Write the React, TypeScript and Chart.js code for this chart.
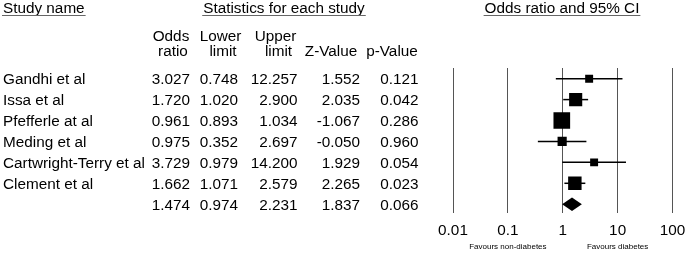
import React, { useEffect, useRef } from "react";
import { Chart, registerables } from "chart.js";

Chart.register(...registerables);

// ---- data ----
const studyNames = [
  "Gandhi et al",
  "Issa et al",
  "Pfefferle at al",
  "Meding et al",
  "Cartwright-Terry et al",
  "Clement et al",
  "",
];
const oddsRatios = [3.027, 1.72, 0.961, 0.975, 3.729, 1.662, 1.474];
const lowerLimits = [0.748, 1.02, 0.893, 0.352, 0.979, 1.071, 0.974];
const upperLimits = [12.257, 2.9, 1.034, 2.697, 14.2, 2.579, 2.231];
const zValues = [1.552, 2.035, -1.067, -0.05, 1.929, 2.265, 1.837];
const pValues = [0.121, 0.042, 0.286, 0.96, 0.054, 0.023, 0.066];
// relative study weights (%) — box area proportional to weight
const weights = [7.5, 20.5, 33, 10, 7.5, 21.5];
const summaryIndex = 6;
const xTickValues = [0.01, 0.1, 1, 10, 100];
const xTickLabels = ["0.01", "0.1", "1", "10", "100"];
const favourLabels = ["Favours non-diabetes", "Favours diabetes"];
const favourAt = [0.1, 10];

const FONT = "'Liberation Sans', Arial, Helvetica, sans-serif";
const FS = 15.3;

const forestPlugin = {
  id: "forestPlugin",
  beforeDatasetsDraw(chart: any) {
    const { ctx } = chart;
    const x = chart.scales.x;
    const y = chart.scales.y;
    ctx.save();
    ctx.strokeStyle = "#000";
    ctx.lineWidth = 1.5;
    for (let i = 0; i < weights.length; i++) {
      const py = y.getPixelForValue(i);
      ctx.beginPath();
      ctx.moveTo(x.getPixelForValue(lowerLimits[i]), py);
      ctx.lineTo(x.getPixelForValue(upperLimits[i]), py);
      ctx.stroke();
    }
    const s = summaryIndex;
    const py = y.getPixelForValue(s);
    const h = 6.7;
    ctx.fillStyle = "#000";
    ctx.beginPath();
    ctx.moveTo(x.getPixelForValue(lowerLimits[s]), py);
    ctx.lineTo(x.getPixelForValue(oddsRatios[s]), py - h);
    ctx.lineTo(x.getPixelForValue(upperLimits[s]), py);
    ctx.lineTo(x.getPixelForValue(oddsRatios[s]), py + h);
    ctx.closePath();
    ctx.fill();
    ctx.restore();
  },
  afterDraw(chart: any) {
    const { ctx } = chart;
    const x = chart.scales.x;
    const y = chart.scales.y;
    ctx.save();
    ctx.fillStyle = "#000";
    ctx.font = `${FS}px ${FONT}`;
    ctx.textBaseline = "alphabetic";

    // top headers with underline
    const underline = (text: string, cx: number, align: "left" | "center") => {
      ctx.textAlign = align;
      ctx.fillText(text, cx, 13);
      const w = ctx.measureText(text).width;
      const x0 = align === "left" ? cx - 1 : cx - w / 2 - 1;
      ctx.save();
      ctx.strokeStyle = "#666";
      ctx.lineWidth = 1;
      ctx.beginPath();
      ctx.moveTo(x0, 15.5);
      ctx.lineTo(x0 + w + 2, 15.5);
      ctx.stroke();
      ctx.restore();
    };
    underline("Study name", 3, "left");
    underline("Statistics for each study", 284, "center");
    underline("Odds ratio and 95% CI", 562, "center");

    // column headers
    ctx.textAlign = "center";
    const h1: [string, number][] = [["Odds", 171], ["Lower", 220.5], ["Upper", 275.5]];
    const h2: [string, number][] = [["ratio", 173], ["limit", 223], ["limit", 278.5], ["Z-Value", 331], ["p-Value", 392]];
    h1.forEach(([t, cx]) => ctx.fillText(t, cx, 41));
    h2.forEach(([t, cx]) => ctx.fillText(t, cx, 56));

    // rows
    const cols = [oddsRatios, lowerLimits, upperLimits, zValues, pValues];
    const rights = [190, 238, 297.5, 360, 418.5];
    for (let i = 0; i < studyNames.length; i++) {
      const base = y.getPixelForValue(i) + 5.6;
      ctx.textAlign = "left";
      ctx.fillText(studyNames[i], 3, base);
      ctx.textAlign = "right";
      cols.forEach((arr, c) => ctx.fillText(arr[i].toFixed(3), rights[c], base));
    }

    // favours labels
    ctx.font = `8px ${FONT}`;
    ctx.textAlign = "center";
    favourLabels.forEach((t, i) => ctx.fillText(t, x.getPixelForValue(favourAt[i]), 249));
    ctx.restore();
  },
};

export default function App() {
  const ref = useRef<HTMLCanvasElement>(null);
  useEffect(() => {
    const chart = new Chart(ref.current as HTMLCanvasElement, {
      type: "scatter",
      data: {
        datasets: [
          {
            data: weights.map((_, i) => ({ x: oddsRatios[i], y: i })),
            pointStyle: "rect",
            backgroundColor: "#000",
            borderColor: "#000",
            borderWidth: 0,
            pointRadius: (c: any) => 2.05 * Math.sqrt(weights[c.dataIndex] || 0),
            pointHoverRadius: (c: any) => 2.05 * Math.sqrt(weights[c.dataIndex] || 0),
          },
        ],
      },
      options: {
        responsive: false,
        animation: false,
        devicePixelRatio: 1,
        events: [],
        layout: { padding: { left: 453, right: 12.5, top: 68, bottom: 0 } },
        plugins: { legend: { display: false }, tooltip: { enabled: false } },
        scales: {
          x: {
            type: "logarithmic",
            min: 0.01,
            max: 100,
            position: "bottom",
            afterBuildTicks: (s: any) => {
              s.ticks = xTickValues.map((v) => ({ value: v }));
            },
            afterFit: (s: any) => {
              s.height = 46;
              s.paddingLeft = 0;
              s.paddingRight = 0;
            },
            grid: { color: "#555", lineWidth: 1, drawTicks: false },
            border: { display: false },
            ticks: {
              callback: (_v: any, i: number) => xTickLabels[i],
              color: "#000",
              font: { family: FONT, size: FS },
              padding: 9,
              autoSkip: false,
              maxRotation: 0,
            },
          },
          y: { type: "linear", display: false, min: -0.51, max: 6.42, reverse: true },
        },
      } as any,
      plugins: [forestPlugin],
    });
    return () => chart.destroy();
  }, []);
  return (
    <div style={{ position: "absolute", left: 0, top: 0, width: 685, height: 259, background: "#fff" }}>
      <canvas ref={ref} width={685} height={259} style={{ display: "block" }} />
    </div>
  );
}
